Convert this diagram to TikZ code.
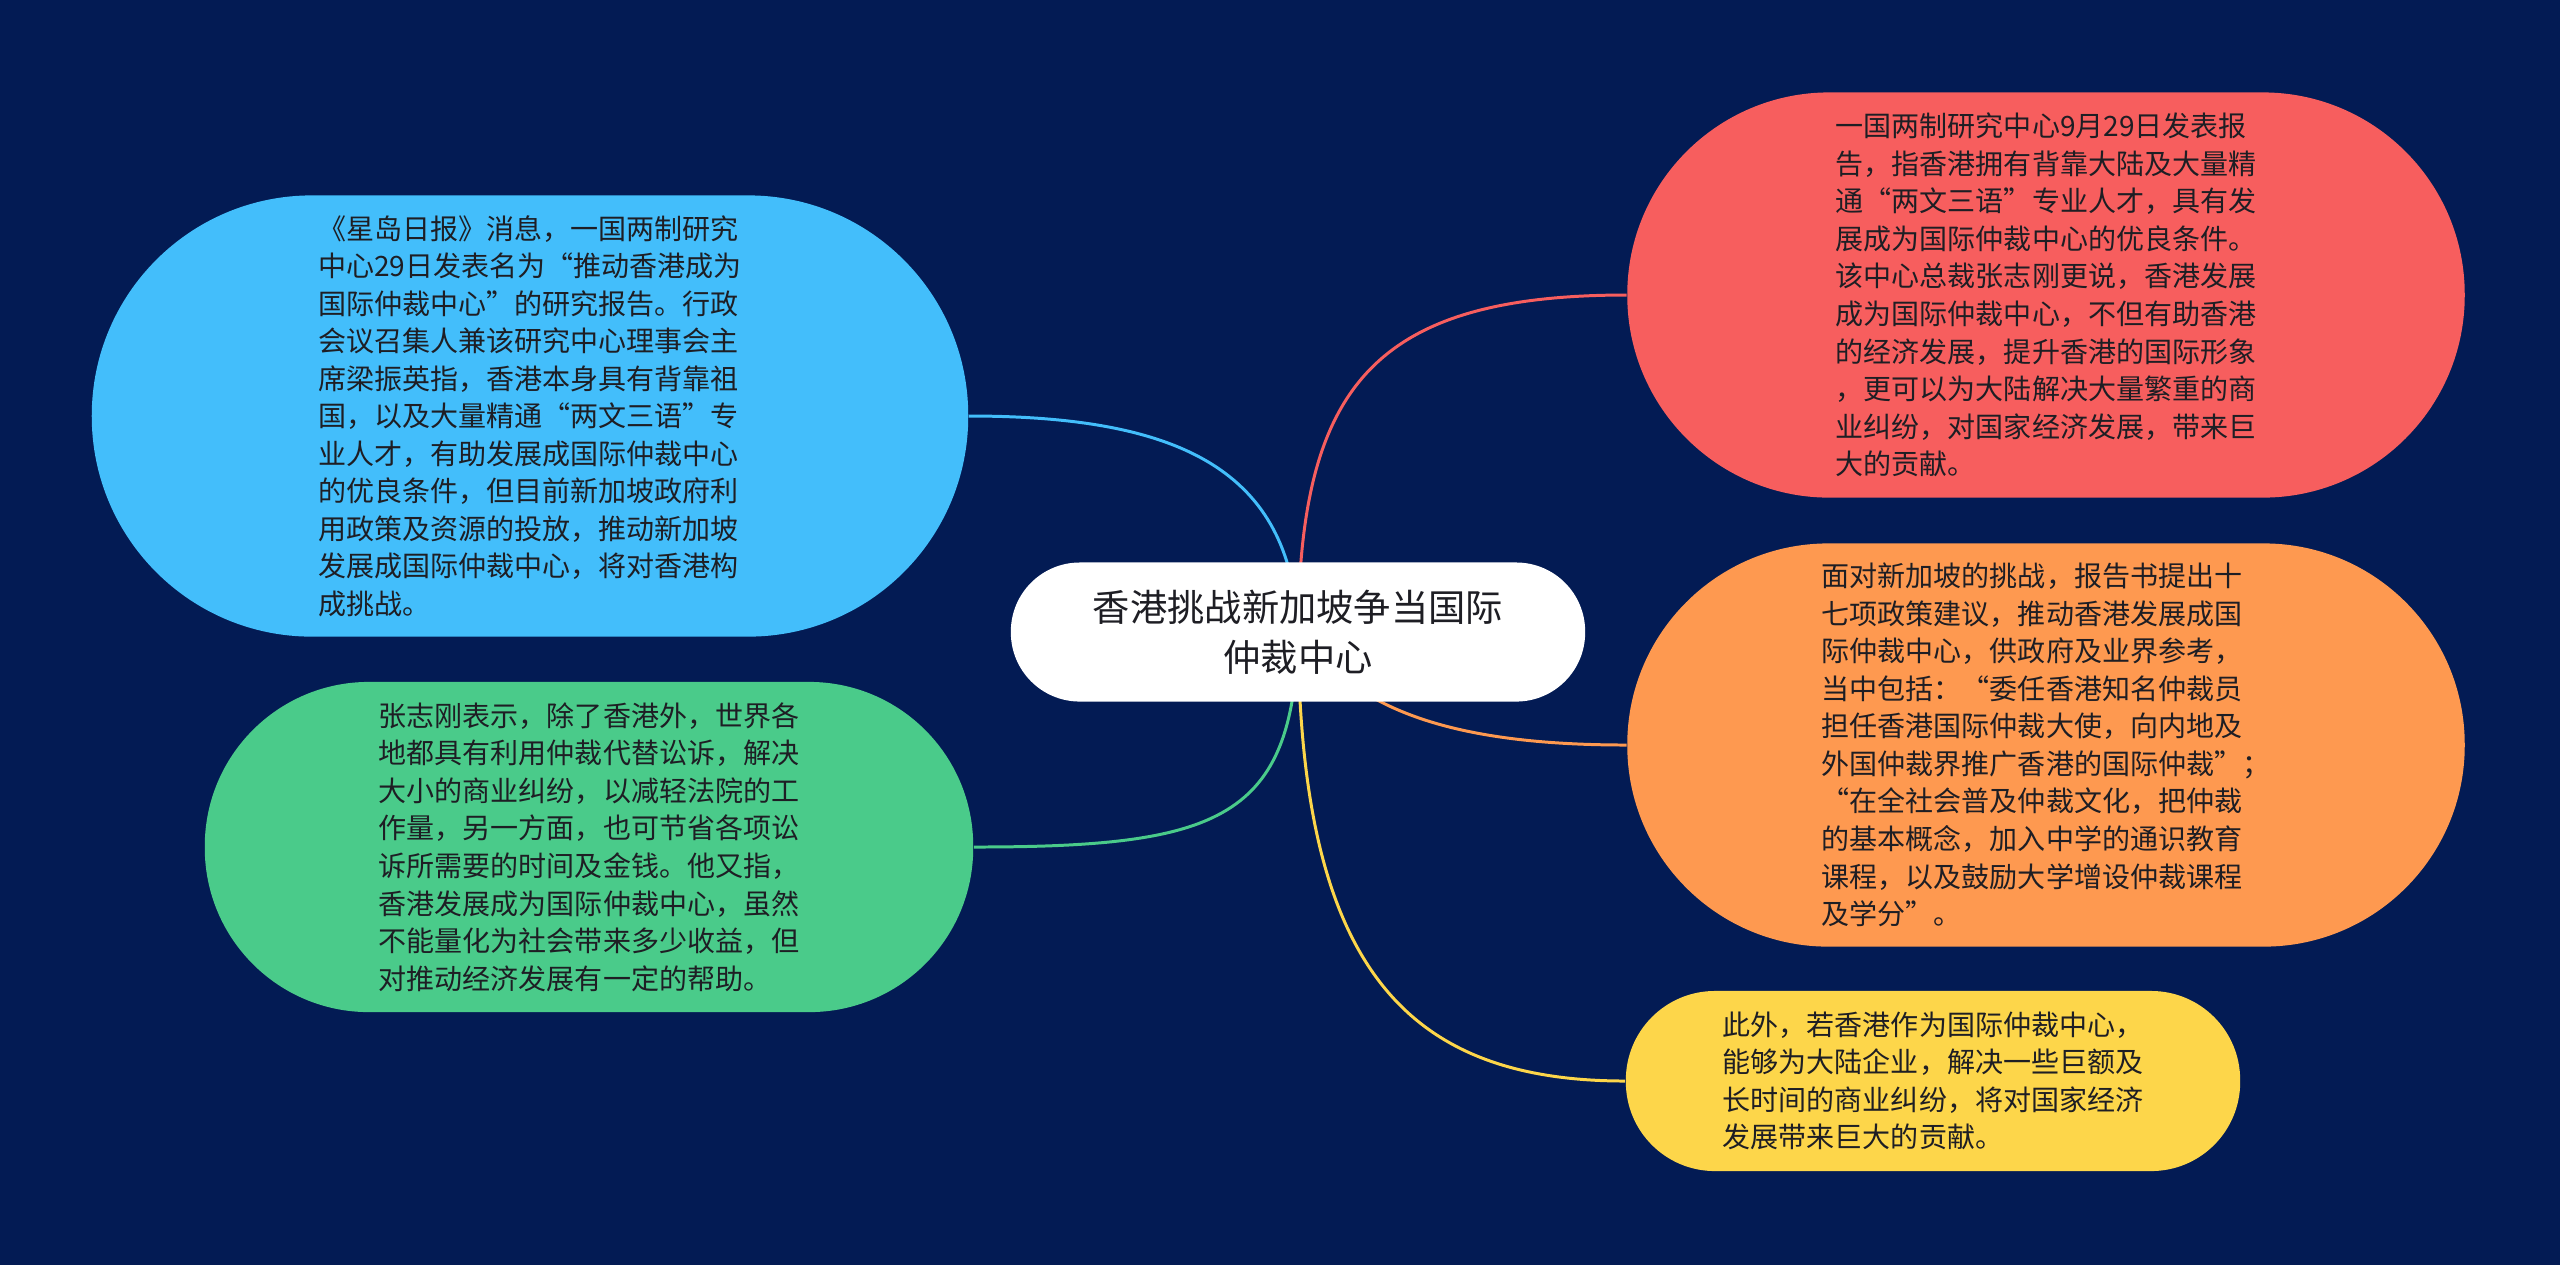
\documentclass[tikz,border=0pt]{standalone}
\usepackage{fontspec}
\setmainfont{Noto Sans CJK SC}
\definecolor{bgc}{RGB}{3,27,84}
\definecolor{cblue}{RGB}{67,190,251}
\definecolor{cgreen}{RGB}{74,203,138}
\definecolor{cred}{RGB}{247,94,94}
\definecolor{corange}{RGB}{254,153,80}
\definecolor{cyellow}{RGB}{253,214,74}
\definecolor{ctext}{RGB}{30,30,36}
\pgfdeclarelayer{bglayer}
\pgfdeclarelayer{edges}
\pgfsetlayers{bglayer,edges,main}
\tikzset{
  leaf/.style={rectangle, inner sep=0pt, align=left, text=ctext,
    font=\fontsize{7.97pt}{10.67pt}\selectfont},
  rootbox/.style={rectangle, inner sep=0pt, align=center, fill=white, text=ctext,
    minimum width=5.74cm, minimum height=1.39cm, rounded corners=0.69cm,
    font=\fontsize{10.6pt}{14.2pt}\selectfont},
  conn/.style={line width=0.85pt}
}
\begin{document}
\begin{tikzpicture}[x=0.01cm,y=-0.01cm]
\begin{pgfonlayer}{bglayer}
\fill[bgc] (0,0) rectangle (2560,1265);
\end{pgfonlayer}
\useasboundingbox (0,0) rectangle (2560,1265);

\node[rootbox] (root) at (1298,632) {香港挑战新加坡争当国际\\仲裁中心};

\node[leaf, fill=cblue, minimum width=8.76cm, minimum height=4.41cm, rounded corners=2.2cm] (blue) at (530,416)
{《星岛日报》消息，一国两制研究\\
中心29日发表名为“推动香港成为\\
国际仲裁中心”的研究报告。行政\\
会议召集人兼该研究中心理事会主\\
席梁振英指，香港本身具有背靠祖\\
国，以及大量精通“两文三语”专\\
业人才，有助发展成国际仲裁中心\\
的优良条件，但目前新加坡政府利\\
用政策及资源的投放，推动新加坡\\
发展成国际仲裁中心，将对香港构\\
成挑战。};

\node[leaf, fill=cgreen, minimum width=7.68cm, minimum height=3.30cm, rounded corners=1.64cm] (green) at (589,847)
{张志刚表示，除了香港外，世界各\\
地都具有利用仲裁代替讼诉，解决\\
大小的商业纠纷，以减轻法院的工\\
作量，另一方面，也可节省各项讼\\
诉所需要的时间及金钱。他又指，\\
香港发展成为国际仲裁中心，虽然\\
不能量化为社会带来多少收益，但\\
对推动经济发展有一定的帮助。};

\node[leaf, fill=cred, minimum width=8.37cm, minimum height=4.05cm, rounded corners=2.02cm] (red) at (2046,295)
{一国两制研究中心9月29日发表报\\
告，指香港拥有背靠大陆及大量精\\
通“两文三语”专业人才，具有发\\
展成为国际仲裁中心的优良条件。\\
该中心总裁张志刚更说，香港发展\\
成为国际仲裁中心，不但有助香港\\
的经济发展，提升香港的国际形象\\
，更可以为大陆解决大量繁重的商\\
业纠纷，对国家经济发展，带来巨\\
大的贡献。};

\node[leaf, fill=corange, minimum width=8.37cm, minimum height=4.03cm, rounded corners=2.01cm] (orange) at (2046,745)
{面对新加坡的挑战，报告书提出十\\
七项政策建议，推动香港发展成国\\
际仲裁中心，供政府及业界参考，\\
当中包括：“委任香港知名仲裁员\\
担任香港国际仲裁大使，向内地及\\
外国仲裁界推广香港的国际仲裁”；\\
“在全社会普及仲裁文化，把仲裁\\
的基本概念，加入中学的通识教育\\
课程，以及鼓励大学增设仲裁课程\\
及学分”。};

\node[leaf, fill=cyellow, minimum width=6.14cm, minimum height=1.80cm, rounded corners=0.89cm] (yellow) at (1933,1081)
{此外，若香港作为国际仲裁中心，\\
能够为大陆企业，解决一些巨额及\\
长时间的商业纠纷，将对国家经济\\
发展带来巨大的贡献。};

\begin{pgfonlayer}{edges}
\draw[conn, cblue] (root.center) .. controls (1292,470) and (1180,416) .. (blue.east);
\draw[conn, cgreen] (root.center) .. controls (1294,820) and (1220,847) .. (green.east);
\draw[conn, cred] (root.center) .. controls (1300,390) and (1370,295) .. (red.west);
\draw[conn, corange] (root.center) .. controls (1350,700) and (1430,745) .. (orange.west);
\draw[conn, cyellow] (root.center) .. controls (1300,960) and (1400,1081) .. (yellow.west);
\end{pgfonlayer}
\end{tikzpicture}
\end{document}
